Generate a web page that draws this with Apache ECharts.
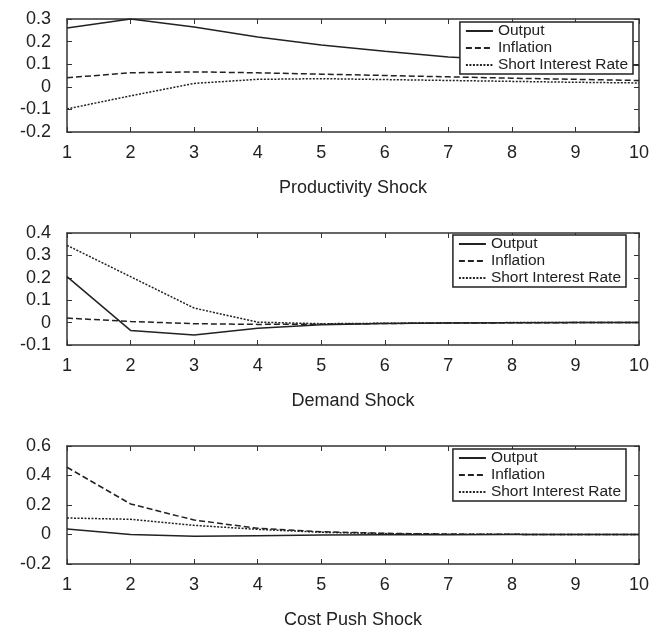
<!DOCTYPE html>
<html>
<head>
<meta charset="utf-8">
<script src="https://cdn.jsdelivr.net/npm/echarts@6/dist/echarts.min.js"></script>
<style>
html,body{margin:0;padding:0;background:#fff;}
#main{width:652px;height:631px;}
</style>
</head>
<body>
<div id="main"></div>
<script>
// periods
var periods=[1,2,3,4,5,6,7,8,9,10];
var seriesNames=['Output','Inflation','Short Interest Rate'];
var panelTitles=['Productivity Shock','Demand Shock','Cost Push Shock'];

// productivity shock
var prodOutput=[0.26,0.30,0.265,0.22,0.185,0.157,0.132,0.118,0.105,0.095];
var prodInflation=[0.04,0.062,0.066,0.062,0.056,0.05,0.044,0.038,0.033,0.028];
var prodRate=[-0.098,-0.04,0.015,0.033,0.036,0.032,0.028,0.024,0.02,0.017];

// demand shock
var demOutput=[0.205,-0.035,-0.055,-0.025,-0.01,-0.004,-0.002,-0.001,0,0];
var demInflation=[0.02,0.005,-0.005,-0.008,-0.007,-0.004,-0.002,-0.001,0,0];
var demRate=[0.345,0.205,0.065,0.002,-0.005,-0.003,-0.001,0,0,0];

// cost push shock
var cpOutput=[0.037,0.0,-0.012,-0.008,-0.004,-0.002,-0.001,0,0,0];
var cpInflation=[0.456,0.207,0.098,0.042,0.019,0.008,0.003,0.001,0,0];
var cpRate=[0.112,0.103,0.062,0.035,0.015,0.006,0.002,0.001,0,0];

// y axis ranges per panel
var yMins=[-0.2,-0.1,-0.2];
var yMaxs=[0.3,0.4,0.6];
var yIntervals=[0.1,0.1,0.2];

var panelData=[
	[prodOutput,prodInflation,prodRate],
	[demOutput,demInflation,demRate],
	[cpOutput,cpInflation,cpRate]
];

var lineColor='#222';
var lineTypes=['solid',[6,3],[2,1.5]];
var gridTops=[19,233,446];
var gridHeights=[113,112,118];
var legendTops=[22,235,449];

var font='"Liberation Sans", Arial, sans-serif';

var grids=[],xAxes=[],yAxes=[],series=[],legends=[];
for(var p=0;p<3;p++)
{
	grids.push({left:67,right:13,top:gridTops[p],height:gridHeights[p],show:false});
	// bottom x axis with labels and title
	xAxes.push({
		type:'value',gridIndex:p,min:1,max:10,interval:1,position:'bottom',
		name:panelTitles[p],nameLocation:'middle',nameGap:47,
		nameTextStyle:{fontFamily:font,fontSize:18,color:'#222'},
		axisLine:{onZero:false,lineStyle:{color:'#333',width:1.5}},
		axisTick:{inside:true,length:5,lineStyle:{color:'#333',width:1}},
		axisLabel:{fontFamily:font,fontSize:18,color:'#222',margin:12},
		splitLine:{show:false}
	});
	// top x axis, ticks only
	xAxes.push({
		type:'value',gridIndex:p,min:1,max:10,interval:1,position:'top',
		axisLine:{onZero:false,lineStyle:{color:'#333',width:1.5}},
		axisTick:{inside:true,length:5,lineStyle:{color:'#333',width:1}},
		axisLabel:{show:false},splitLine:{show:false}
	});
	yAxes.push({
		type:'value',gridIndex:p,min:yMins[p],max:yMaxs[p],interval:yIntervals[p],position:'left',
		axisLine:{show:true,onZero:false,lineStyle:{color:'#333',width:1.5}},
		axisTick:{show:true,inside:true,length:5,lineStyle:{color:'#333',width:1}},
		axisLabel:{fontFamily:font,fontSize:18,color:'#222',margin:16,
			formatter:function(v){return Math.abs(v)<1e-9?'0':(+v.toFixed(1)).toString();}},
		splitLine:{show:false}
	});
	yAxes.push({
		type:'value',gridIndex:p,min:yMins[p],max:yMaxs[p],interval:yIntervals[p],position:'right',
		axisLine:{show:true,onZero:false,lineStyle:{color:'#333',width:1.5}},
		axisTick:{show:true,inside:true,length:5,lineStyle:{color:'#333',width:1}},
		axisLabel:{show:false},splitLine:{show:false}
	});
	for(var s=0;s<3;s++)
	{
		var pts=[];
		for(var i=0;i<periods.length;i++) pts.push([periods[i],panelData[p][s][i]]);
		series.push({
			name:seriesNames[s],type:'line',xAxisIndex:p*2,yAxisIndex:p*2,
			data:pts,symbol:'none',showSymbol:false,silent:true,
			lineStyle:{color:lineColor,width:1.5,type:lineTypes[s]},
			itemStyle:{color:lineColor}
		});
	}
	legends.push({
		data:seriesNames.slice(),orient:'vertical',right:p==0?19:26,top:legendTops[p],
		itemWidth:27,itemHeight:10,itemGap:1,padding:[1,5,1,5],
		backgroundColor:'#fff',borderColor:'#222',borderWidth:1.5,borderRadius:0,
		align:'left',selectedMode:false,z:10,
		itemStyle:{opacity:0},
		textStyle:{fontFamily:font,fontSize:15.5,lineHeight:15,color:'#222'}
	});
}

var myChart=echarts.init(document.getElementById('main'));
myChart.setOption({
	backgroundColor:'#fff',
	animation:false,
	grid:grids,
	xAxis:xAxes,
	yAxis:yAxes,
	legend:legends,
	series:series
});
</script>
</body>
</html>
